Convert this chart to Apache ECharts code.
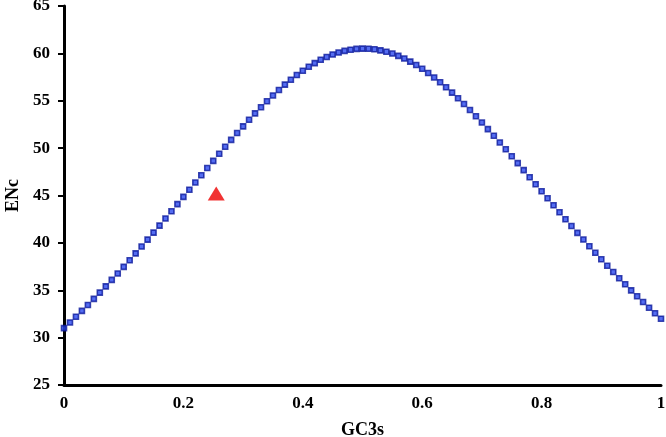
<!DOCTYPE html>
<html>
<head>
<meta charset="utf-8">
<script src="https://cdn.jsdelivr.net/npm/echarts@6/dist/echarts.min.js"></script>
<style>
  html, body { margin: 0; padding: 0; background: #fff; }
  #chart { width: 666px; height: 437px; }
</style>
</head>
<body>
<div id="chart"></div>
<script>
// expected curve, GC3s 0 -> 1
var gc3s = [0, 0.01, 0.02, 0.03, 0.04, 0.05, 0.06, 0.07, 0.08, 0.09,
  0.10, 0.11, 0.12, 0.13, 0.14, 0.15, 0.16, 0.17, 0.18, 0.19,
  0.20, 0.21, 0.22, 0.23, 0.24, 0.25, 0.26, 0.27, 0.28, 0.29,
  0.30, 0.31, 0.32, 0.33, 0.34, 0.35, 0.36, 0.37, 0.38, 0.39,
  0.40, 0.41, 0.42, 0.43, 0.44, 0.45, 0.46, 0.47, 0.48, 0.49,
  0.50, 0.51, 0.52, 0.53, 0.54, 0.55, 0.56, 0.57, 0.58, 0.59,
  0.60, 0.61, 0.62, 0.63, 0.64, 0.65, 0.66, 0.67, 0.68, 0.69,
  0.70, 0.71, 0.72, 0.73, 0.74, 0.75, 0.76, 0.77, 0.78, 0.79,
  0.80, 0.81, 0.82, 0.83, 0.84, 0.85, 0.86, 0.87, 0.88, 0.89,
  0.90, 0.91, 0.92, 0.93, 0.94, 0.95, 0.96, 0.97, 0.98, 0.99, 1.00]
var encCurve = [31.00, 31.60, 32.20, 32.82, 33.45, 34.09, 34.75, 35.41, 36.09, 36.77,
  37.47, 38.17, 38.89, 39.61, 40.34, 41.08, 41.82, 42.57, 43.33, 44.09,
  44.85, 45.61, 46.37, 47.14, 47.90, 48.65, 49.40, 50.14, 50.87, 51.59,
  52.30, 52.99, 53.67, 54.32, 54.95, 55.56, 56.14, 56.70, 57.22, 57.71,
  58.17, 58.59, 58.97, 59.32, 59.62, 59.88, 60.09, 60.26, 60.39, 60.47,
  60.50, 60.49, 60.43, 60.32, 60.17, 59.98, 59.74, 59.46, 59.13, 58.77,
  58.37, 57.93, 57.46, 56.96, 56.42, 55.86, 55.27, 54.66, 54.03, 53.37,
  52.70, 52.01, 51.31, 50.60, 49.88, 49.15, 48.42, 47.68, 46.93, 46.19,
  45.45, 44.71, 43.97, 43.23, 42.50, 41.78, 41.06, 40.35, 39.65, 38.95,
  38.27, 37.59, 36.93, 36.27, 35.63, 34.99, 34.37, 33.76, 33.16, 32.58, 32.00]

// observed gene
var obsGC3s = [0.255]
var obsENc = [45.2]

var font = 'Liberation Serif'

let chart = echarts.init(document.getElementById('chart'))

let options = {
  animation: false,
  grid: {
    top: 6,
    left: 64,
    right: 5,
    bottom: 52,
    outerBoundsMode: 'none'
  },
  xAxis: {
    type: 'value',
    min: 0,
    max: 1,
    interval: 0.2,
    name: 'GC3s',
    nameLocation: 'middle',
    nameGap: 36,
    nameTextStyle: { color: '#000', fontFamily: font, fontWeight: 'bold', fontSize: 18 },
    axisLine: { lineStyle: { color: '#000', width: 3 } },
    axisTick: { show: false },
    axisLabel: { color: '#000', fontFamily: font, fontWeight: 'bold', fontSize: 17, margin: 10 },
    splitLine: { show: false }
  },
  yAxis: {
    type: 'value',
    min: 25,
    max: 65,
    interval: 5,
    name: 'ENc',
    nameLocation: 'middle',
    nameGap: 42,
    nameTextStyle: { color: '#000', fontFamily: font, fontWeight: 'bold', fontSize: 18 },
    axisLine: { lineStyle: { color: '#000', width: 3 } },
    axisTick: { show: true, length: 6, lineStyle: { color: '#000', width: 2 } },
    axisLabel: { color: '#000', fontFamily: font, fontWeight: 'bold', fontSize: 17, margin: 14 },
    splitLine: { show: false }
  },
  series: [
    {
      name: 'expected',
      type: 'scatter',
      symbol: 'rect',
      symbolSize: 5,
      itemStyle: { color: '#2a48ee', borderColor: '#0d1a9c', borderWidth: 1.6 },
      data: gc3s.map((x, i) => [x, encCurve[i]])
    },
    {
      name: 'observed',
      type: 'scatter',
      symbol: 'triangle',
      symbolSize: [17, 14],
      itemStyle: { color: '#ee0000' },
      data: obsGC3s.map((x, i) => [x, obsENc[i]])
    }
  ]
}

chart.setOption(options)
</script>
</body>
</html>
